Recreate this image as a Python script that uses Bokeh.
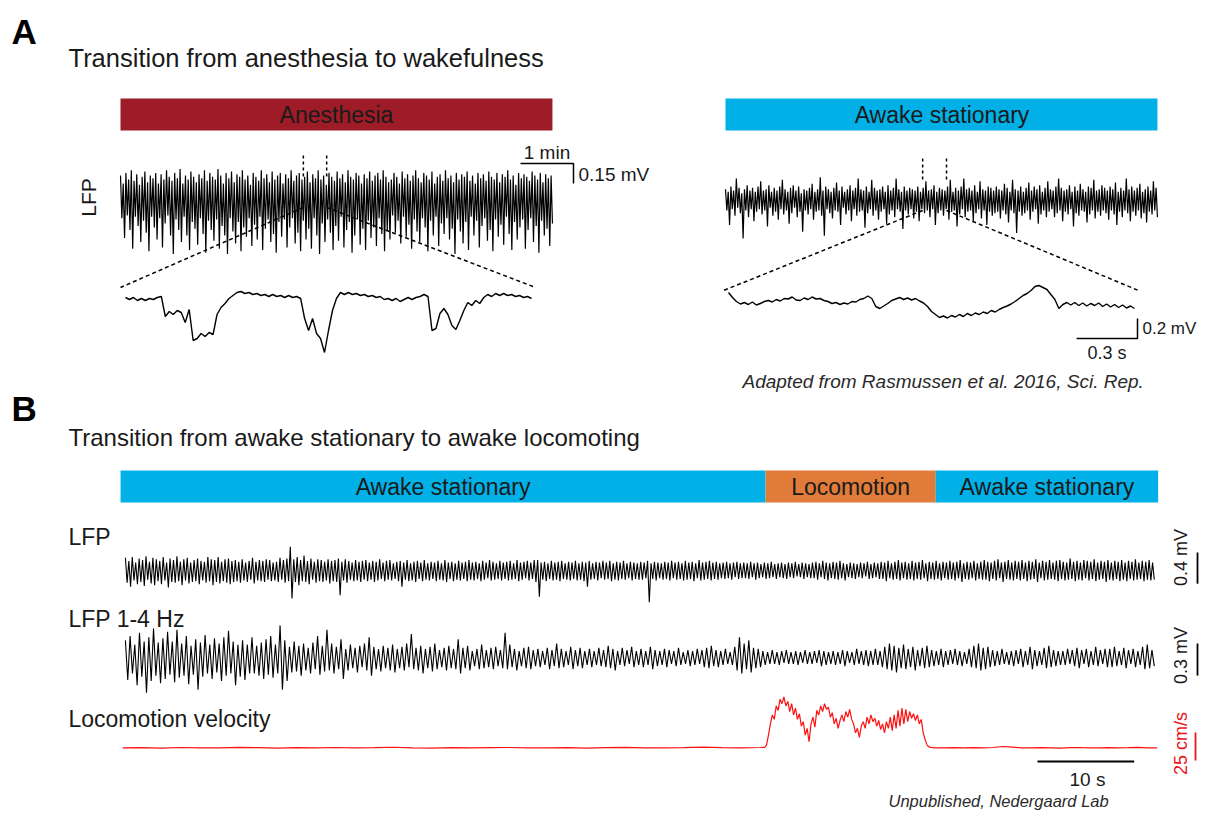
import numpy as np
from bokeh.plotting import figure
from bokeh.models import Range1d
from bokeh.core.properties import value
from bokeh.embed import file_html
from bokeh.resources import INLINE

# ---------------- DATA ----------------
# Panel A, anesthesia LFP (uV), ~8.15 min, min/max alternating samples
A_anes_lfp = [
    150,-170,90,-320,170,-150,120,-260,190,-400,110,-160,160,-230,80,-350,140,-190,180,-280,
    100,-420,150,-160,130,-240,170,-330,90,-170,160,-390,120,-210,190,-150,140,-300,110,-440,
    170,-180,130,-260,200,-350,90,-160,150,-300,120,-410,180,-200,140,-250,100,-370,160,-170,
    130,-290,190,-430,110,-190,170,-260,140,-340,120,-180,200,-400,150,-230,90,-300,170,-440,
    130,-170,180,-270,100,-360,160,-200,140,-420,190,-240,120,-310,150,-170,80,-380,170,-220,
    140,-330,110,-160,190,-410,130,-250,160,-180,100,-350,180,-290,120,-430,150,-200,170,-310,
    90,-180,160,-390,130,-240,190,-170,110,-360,150,-280,170,-420,120,-190,140,-330,180,-250,
    100,-400,160,-170,130,-300,190,-440,120,-210,150,-350,80,-180,170,-280,140,-410,110,-230,
    180,-340,130,-160,160,-390,100,-260,190,-200,140,-430,120,-300,170,-180,150,-370,90,-250,
    160,-410,130,-190,180,-320,110,-240,150,-380,170,-170,120,-290,190,-420,140,-260,100,-330,
    120,-150,170,-280,140,-190,90,-360,180,-160,130,-310,160,-220,110,-400,150,-180,190,-270,
    130,-350,100,-170,170,-240,150,-420,120,-190,180,-300,90,-160,140,-380,160,-210,110,-290,
    190,-170,130,-330,150,-250,100,-440,170,-180,120,-270,160,-360,140,-200,180,-410,110,-160,
    150,-300,90,-190,170,-390,130,-230,160,-170,110,-340,180,-260,140,-420,120,-180,170,-310,
    100,-220,160,-370,140,-160,190,-290,120,-410,150,-200,80,-330,170,-240,130,-180,160,-400,
    140,-260,110,-170,180,-350,150,-230,120,-430,170,-190,100,-300,160,-250,130,-380,150,-210,
]
# Panel A, awake stationary LFP (uV)
A_awake_lfp = [
    70,-90,50,-200,90,-80,60,-130,150,-70,80,-110,40,-300,70,-90,100,-140,60,-80,
    80,-170,50,-100,90,-80,130,-120,60,-90,70,-210,100,-70,50,-130,80,-100,60,-160,
    90,-80,140,-120,70,-90,50,-190,80,-110,100,-70,60,-140,90,-100,40,-250,70,-90,
    60,-120,80,-80,110,-160,50,-100,70,-90,160,-130,60,-280,90,-80,70,-110,50,-150,
    80,-90,120,-100,60,-200,90,-70,50,-120,70,-90,100,-170,60,-80,80,-130,150,-100,
    70,-90,60,-220,90,-110,50,-80,140,-130,80,-90,60,-160,70,-100,90,-80,50,-190,
    100,-120,60,-90,80,-140,150,-80,70,-100,50,-230,90,-90,60,-120,80,-80,70,-150,
    60,-100,90,-170,50,-80,80,-110,130,-90,60,-140,70,-80,100,-200,50,-110,80,-90,
    70,-130,60,-80,90,-160,140,-100,50,-90,80,-210,60,-120,90,-80,150,-140,70,-100,
    80,-90,60,-170,100,-110,50,-80,130,-150,70,-90,60,-200,90,-100,80,-130,60,-110,
    90,-100,70,-150,60,-90,110,-120,80,-180,50,-90,140,-110,70,-260,60,-100,90,-130,
    50,-110,80,-90,120,-160,60,-100,90,-80,70,-190,100,-120,50,-90,80,-140,130,-100,
    70,-80,60,-140,90,-110,150,-90,80,-170,60,-100,70,-120,100,-80,50,-210,90,-110,
    60,-130,110,-90,70,-100,50,-180,90,-120,80,-90,140,-150,60,-100,70,-130,100,-90,
    80,-110,60,-160,90,-90,70,-120,120,-200,50,-100,80,-140,60,-90,150,-110,70,-170,
    90,-100,60,-130,80,-90,110,-150,50,-110,70,-180,90,-100,60,-120,130,-90,80,-140,
]
A_lfp_minutes = 8.15              # length of both panel-A LFP records (min)
anes_zoom_window = [3.45, 3.89]   # min
awake_zoom_window = [3.72, 4.17]  # min

# Zoomed 2-s excerpts (uV)
A_anes_zoom = [0,-20,0,-30,-10,-30,-10,-20,0,10,-190,-140,-170,-130,-150,-250,-120,-430,-410,-360,
    -390,-350,-370,-170,-100,-60,-10,20,50,60,40,50,30,40,20,30,10,30,10,20,
    0,20,0,10,-10,-210,-330,-210,-360,-410,-550,-330,-130,-10,50,30,50,30,40,20,
    30,10,20,0,10,-20,-10,-30,-10,-40,-20,0,-20,0,10,30,10,-330,-310,-160,
    -110,-170,-280,-320,-230,-130,-50,-80,-30,-60,0,30,10,40,20,40,20,30,10,20,0,10,-10]
A_awake_zoom = [80,30,-10,-35,-20,-40,-15,-45,-30,-10,0,-15,10,-5,20,15,35,5,0,25,
    10,35,15,20,0,-10,-30,-20,-40,-25,-35,-10,-15,10,20,45,20,-60,-80,-55,
    -30,0,15,30,10,25,5,20,-5,-25,-60,-110,-140,-170,-155,-175,-150,-165,-140,-160,
    -130,-150,-125,-140,-115,-130,-100,-115,-90,-70,-55,-35,-10,20,50,70,100,140,150,130,
    110,60,10,-80,-40,-20,-45,-20,-50,-25,-55,-30,-50,-25,-60,-35,-65,-40,-70,-45,-75,-55,-80]
zoom_seconds = 2.0

# Panel B (107 s)
B_seconds = 107.0
B_lfp = [
    150,-170,110,-220,160,-140,90,-190,140,-160,120,-210,170,-130,100,-180,150,-200,130,-150,
    110,-190,160,-140,90,-230,140,-160,120,-170,170,-150,100,-200,130,-140,150,-180,90,-160,
    120,-150,140,-190,110,-140,100,-170,160,-150,130,-200,120,-160,160,-180,100,-150,130,-170,
    140,-190,110,-160,120,-150,100,-170,130,-140,90,-160,110,-130,150,-180,100,-140,120,-150,
    110,-160,130,-130,120,-150,90,-140,100,-160,150,-130,120,-170,140,-150,290,-370,130,-160,
    160,-200,120,-150,180,-160,110,-190,140,-130,100,-170,130,-150,120,-160,100,-140,130,-180,
    110,-150,120,-160,140,-330,100,-140,130,-170,110,-130,90,-150,120,-140,100,-160,110,-130,
    120,-150,90,-130,110,-160,100,-140,130,-120,90,-150,110,-130,120,-140,80,-120,100,-150,
    110,-220,90,-130,120,-150,80,-140,100,-160,110,-120,90,-150,120,-130,80,-140,100,-120,
    90,-150,110,-130,80,-140,120,-160,90,-120,100,-150,80,-130,110,-140,90,-120,100,-150,
    120,-130,90,-140,100,-120,80,-150,110,-130,90,-110,120,-140,100,-130,80,-120,110,-140,
    90,-120,100,-140,110,-130,80,-120,120,-150,90,-130,100,-110,110,-140,90,-120,120,-160,
    120,-350,90,-130,100,-150,80,-120,110,-140,90,-130,100,-150,110,-120,80,-130,100,-140,
    90,-120,110,-140,80,-130,100,-150,90,-220,110,-130,80,-120,100,-140,90,-110,110,-130,
    90,-120,110,-150,80,-130,100,-140,90,-120,110,-130,80,-110,100,-140,90,-120,80,-130,
    100,-130,90,-110,110,-420,80,-120,100,-140,90,-110,80,-130,100,-120,90,-140,110,-110,
    90,-130,100,-120,80,-140,110,-130,90,-120,100,-150,80,-110,120,-140,90,-130,100,-120,
    110,-140,90,-120,100,-130,80,-110,90,-120,100,-110,80,-130,90,-100,100,-120,80,-110,
    90,-110,80,-120,100,-100,80,-130,90,-110,70,-100,90,-120,80,-110,100,-100,70,-120,
    80,-100,90,-110,70,-120,90,-100,80,-110,100,-90,70,-100,90,-120,80,-100,70,-110,
    90,-110,100,-130,80,-100,110,-120,90,-140,80,-110,100,-120,90,-130,110,-110,80,-140,
    70,-100,90,-110,80,-120,70,-100,90,-110,80,-90,100,-120,70,-110,90,-100,80,-120,
    100,-120,90,-150,110,-110,80,-130,100,-120,120,-140,90,-110,100,-130,80,-120,110,-140,
    90,-120,100,-130,120,-110,80,-150,100,-120,90,-130,110,-120,80,-140,100,-110,90,-130,
    110,-120,90,-140,100,-110,120,-160,80,-120,100,-130,90,-110,110,-140,80,-120,100,-130,
    120,-130,100,-150,90,-120,110,-140,130,-110,90,-160,100,-120,120,-130,90,-140,110,-120,
    100,-140,120,-120,90,-150,110,-130,100,-120,130,-160,90,-110,110,-140,100,-130,120,-120,
    90,-130,110,-150,120,-120,100,-140,90,-130,140,-120,100,-150,110,-130,90,-140,120,-110,
    110,-140,100,-120,130,-150,90,-130,110,-120,100,-160,120,-130,90,-140,110,-120,100,-150,
    120,-130,90,-150,110,-120,100,-140,130,-130,90,-120,110,-150,100,-130,120,-140,90,-130,
]
B_lfp_delta = [
    160,-210,200,-150,120,-260,230,-180,150,-330,190,-220,270,-170,140,-240,180,-200,240,-160,
    150,-230,260,-190,130,-170,200,-250,110,-160,170,-300,140,-180,210,-150,120,-200,180,-140,
    130,-220,190,-170,250,-150,150,-260,120,-180,160,-210,120,-150,190,-150,110,-170,140,-200,
    170,-160,200,-190,120,-150,300,-300,160,-220,100,-140,150,-130,110,-170,130,-120,90,-150,
    140,-110,200,-160,110,-130,260,-120,130,-150,100,-110,170,-200,80,-120,120,-100,90,-140,
    110,-90,130,-120,190,-170,100,-110,80,-130,110,-100,90,-120,120,-140,80,-100,100,-120,
    130,-90,220,-110,90,-120,110,-150,80,-100,100,-130,130,-110,70,-90,90,-120,110,-100,
    80,-110,170,-150,90,-100,110,-120,60,-80,80,-110,120,-100,70,-90,90,-110,100,-80,
    70,-100,230,-110,120,-90,80,-120,60,-80,90,-100,100,-110,70,-80,80,-90,60,-70,
    90,-110,70,-80,130,-100,80,-90,60,-70,100,-110,70,-80,90,-100,60,-70,80,-90,
    60,-70,90,-80,70,-90,110,-100,80,-120,60,-70,90,-80,70,-60,100,-90,60,-70,
    80,-90,60,-70,100,-110,70,-80,60,-70,80,-90,70,-60,60,-80,90,-70,50,-60,
    70,-80,60,-70,80,-60,70,-90,90,-100,110,-80,70,-90,60,-70,80,-60,50,-70,
    100,-120,190,-150,130,-110,160,-140,90,-100,80,-90,60,-70,50,-60,70,-60,50,-70,
    60,-50,70,-60,50,-60,60,-70,50,-50,70,-60,50,-60,60,-50,70,-80,60,-70,
    50,-60,60,-70,50,-60,70,-80,60,-50,50,-70,80,-60,60,-70,70,-80,60,-70,
    80,-70,60,-90,100,-110,130,-120,110,-140,90,-100,120,-110,80,-90,100,-120,70,-80,
    90,-100,110,-90,70,-80,60,-70,80,-90,60,-70,70,-60,80,-70,60,-80,50,-60,
    80,-90,110,-100,130,-120,90,-110,100,-90,70,-80,60,-70,80,-60,50,-70,60,-80,
    70,-60,80,-90,60,-70,100,-110,70,-80,60,-70,90,-100,110,-90,70,-80,60,-70,
    60,-70,80,-60,70,-80,90,-100,70,-60,80,-90,60,-70,100,-80,70,-60,80,-90,
    80,-90,100,-80,60,-70,90,-100,70,-60,80,-90,60,-70,100,-110,120,-100,70,-80,
]
# Locomotion velocity (cm/s)
vel_pre = [0.5,0.8,0.4,0.9,0.6,0.5,1.0,0.7,0.4,0.8,0.6,0.9,0.5,0.7,1.1,0.6,0.4,0.8,0.5,0.7,
           0.9,0.6,0.5,0.8,0.4,0.7,1.0,0.6,0.5,0.8,1.2,0.7,0.6,0.9]            # 0..66 s, 2-s steps
vel_bout = [1,3,12,22,30,26,38,34,44,40,46,38,42,33,40,30,36,26,31,20,24,12,18,6,22,28,19,34,30,38,
            33,40,35,37,28,32,22,27,18,25,30,24,33,28,35,26,22,14,18,10,20,24,18,28,22,30,24,27,20,25,
            17,22,14,24,18,28,16,30,18,34,20,36,22,35,24,33,27,31,25,30,22,26,14,8,3,1.5,1,0.8,0.6]  # from 66.4 s, 0.2-s steps
vel_post = [0.6,0.8,0.5,0.7,0.6,0.9,1.8,1.2,0.6,0.5,0.8,0.6,0.4,0.7,0.9,0.6,0.5,0.8,0.6,0.7,1.0,0.6,0.5]  # from 85 s, 1-s steps

B_states = ["Awake stationary", "Locomotion", "Awake stationary"]
B_state_start = [-0.2, 66.5, 84.1]
B_state_end = [66.5, 84.1, 107.1]
B_state_colors = ["#00b0e6", "#e07b39", "#00b0e6"]

# ---------------- LAYOUT (picture pixels) ----------------
W, H = 1200, 813
X0, Y0 = 0, 0
p = figure(width=W, height=H, x_range=Range1d(X0, X0 + W), y_range=Range1d(Y0 + H, Y0),
           output_backend="svg", toolbar_location=None, x_axis_type=None, y_axis_type=None,
           min_border=0, outline_line_color=None, background_fill_color="white",
           border_fill_color="white")
p.grid.visible = False

def add_ranges(name, x0, kx, yc, ky):
    p.extra_x_ranges[name] = Range1d(start=(X0 - x0) / kx, end=(X0 + W - x0) / kx)
    p.extra_y_ranges[name] = Range1d(start=(yc - (Y0 + H)) / ky, end=(yc - Y0) / ky)

LAY = {
    "anes": (120, 53.0, 195, 0.133),
    "awake": (725, 53.0, 198, 0.133),
    "anesz": (125, 203.0, 297, 0.10),
    "awakez": (728, 203.0, 300, 0.10),
    "blfp": (122, 9.67, 569, 0.078),
    "bdelta": (122, 9.67, 657, 0.107),
    "bvel": (122, 9.67, 748, 1.12),
}
for k, v in LAY.items():
    add_ranges(k, *v)

def px(name, t):
    x0, kx, _, _ = LAY[name]
    return x0 + t * kx

def py(name, v):
    _, _, yc, ky = LAY[name]
    return yc - v * ky

FONT = value("Liberation Sans")
TXT = "#1a1a1a"

def text(x, y, s, size, align="left", style="normal", color=TXT, angle=0.0, baseline="middle"):
    p.text(x=[x], y=[y], text=[s], text_font=FONT, text_font_size=f"{size}px",
           text_align=align, text_baseline=baseline, text_font_style=style,
           text_color=color, angle=angle)

# ---- state bars ----
p.quad(left=[px("anes", 0)], right=[px("anes", A_lfp_minutes)], top=[98], bottom=[130],
       fill_color="#9e1c27", line_color=None)
p.quad(left=[px("awake", 0)], right=[px("awake", A_lfp_minutes)], top=[98], bottom=[130],
       fill_color="#00b0e6", line_color=None)
p.quad(left=[px("blfp", s) for s in B_state_start], right=[px("blfp", e) for e in B_state_end],
       top=[470] * 3, bottom=[502] * 3, fill_color=B_state_colors, line_color=None)

# ---- connector dashed lines (drawn under traces) ----
for name, zname, win in [("anes", "anesz", anes_zoom_window), ("awake", "awakez", awake_zoom_window)]:
    xa, xb = px(name, win[0]), px(name, win[1])
    yt = py(name, -90)
    zl, zr = px(zname, 0) - 5, px(zname, zoom_seconds) + 4
    zy = LAY[zname][2] - 10
    p.segment(x0=[xa, xb], y0=[yt, yt], x1=[zl, zr], y1=[zy, zy], line_color="black",
              line_width=1.5, line_dash="4 3")
    p.segment(x0=[xa, xb], y0=[py(name, 300)] * 2, x1=[xa, xb], y1=[py(name, 120)] * 2,
              line_color="black", line_width=1.5, line_dash="3 3")

# ---- traces ----
t = np.linspace(0, A_lfp_minutes, len(A_anes_lfp))
p.line(t, A_anes_lfp, x_range_name="anes", y_range_name="anes", line_color="black", line_width=1.2)
t = np.linspace(0, A_lfp_minutes, len(A_awake_lfp))
p.line(t, A_awake_lfp, x_range_name="awake", y_range_name="awake", line_color="black", line_width=1.2)
t = np.linspace(0, zoom_seconds, len(A_anes_zoom))
p.line(t, A_anes_zoom, x_range_name="anesz", y_range_name="anesz", line_color="black", line_width=1.4)
t = np.linspace(0, zoom_seconds, len(A_awake_zoom))
p.line(t, A_awake_zoom, x_range_name="awakez", y_range_name="awakez", line_color="black", line_width=1.4)
t = np.linspace(0.3, B_seconds - 0.3, len(B_lfp))
p.line(t, B_lfp, x_range_name="blfp", y_range_name="blfp", line_color="black", line_width=1.1)
t = np.linspace(0.3, B_seconds - 0.3, len(B_lfp_delta))
p.line(t, B_lfp_delta, x_range_name="bdelta", y_range_name="bdelta", line_color="black", line_width=1.1)
vt = np.concatenate([np.arange(len(vel_pre)) * 2.0,
                     66.4 + np.arange(len(vel_bout)) * 0.2,
                     85.0 + np.arange(len(vel_post)) * 1.0])
vv = np.array(vel_pre + vel_bout + vel_post, dtype=float)
p.line(vt, vv, x_range_name="bvel", y_range_name="bvel", line_color="#ff1010", line_width=1.2)

# ---- scale bars ----
sx = 573
p.line([sx - 1.0 * LAY["anes"][1], sx, sx], [163, 163, 163 + 150 * LAY["anes"][3]],
       line_color="black", line_width=1.5)
text(sx - 0.5 * LAY["anes"][1], 152, "1 min", 19, align="center")
text(578, 174, "0.15 mV", 19)
sx = 1137
p.line([sx - 0.3 * LAY["anesz"][1], sx, sx], [338, 338, 338 - 200 * LAY["anesz"][3]],
       line_color="black", line_width=1.5)
text(sx - 0.15 * LAY["anesz"][1], 352, "0.3 s", 18, align="center")
text(1142, 328, "0.2 mV", 17)
p.line([1197, 1197], [552, 552 + 400 * LAY["blfp"][3]], line_color="black", line_width=1.8)
p.line([1197, 1197], [643, 643 + 300 * LAY["bdelta"][3]], line_color="black", line_width=1.8)
p.line([1195, 1195], [732, 732 + 25 * LAY["bvel"][3]], line_color="#e8141b", line_width=1.8)
p.line([1037, 1037 + 10 * LAY["bvel"][1]], [761, 761], line_color="black", line_width=1.8)
text(1087, 779, "10 s", 19, align="center")
text(1180, 557, "0.4 mV", 18, align="center", angle=np.pi / 2)
text(1180, 655, "0.3 mV", 18, align="center", angle=np.pi / 2)
text(1180, 743, "25 cm/s", 18, align="center", angle=np.pi / 2, color="#e8141b")

# ---- labels ----
text(11, 31, "A", 35, style="bold", color="black")
text(68, 57, "Transition from anesthesia to wakefulness", 25.5)
text(336, 114, "Anesthesia", 23, align="center")
text(941.5, 114, "Awake stationary", 23, align="center")
text(88, 197, "LFP", 21, align="center", angle=np.pi / 2)
text(742, 381, "Adapted from Rasmussen et al. 2016, Sci. Rep.", 19, style="italic", color="#2a2a2a")

text(11, 408, "B", 35, style="bold", color="black")
text(68, 437, "Transition from awake stationary to awake locomoting", 24)
for s, a, b in zip(B_states, B_state_start, B_state_end):
    text(px("blfp", (a + b) / 2), 486, s, 23, align="center")
text(68, 536, "LFP", 23)
text(68, 618, "LFP 1-4 Hz", 23)
text(68, 718, "Locomotion velocity", 23)
text(888, 800, "Unpublished, Nedergaard Lab", 16.5, style="italic", color="#2a2a2a")

open("out.html", "w").write(file_html(p, INLINE))
